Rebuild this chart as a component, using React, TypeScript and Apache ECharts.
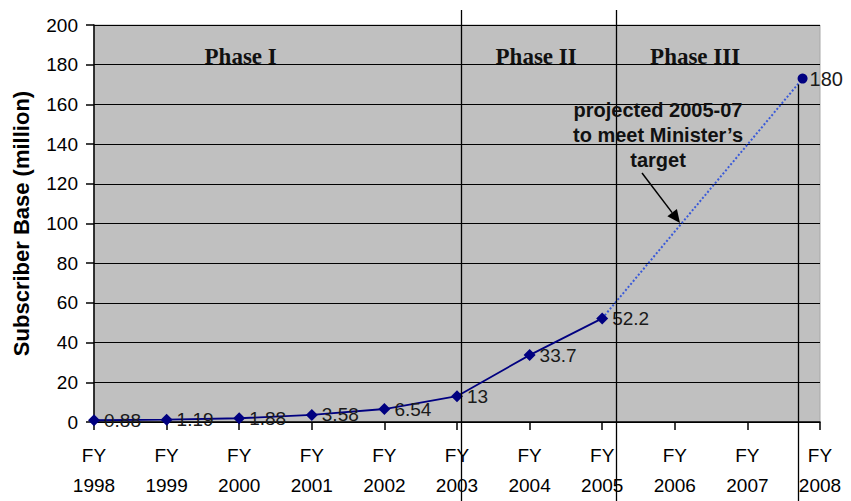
import React, { useEffect, useRef } from "react";
import * as echarts from "echarts";

const categories = ["FY\n1998", "FY\n1999", "FY\n2000", "FY\n2001", "FY\n2002", "FY\n2003", "FY\n2004", "FY\n2005", "FY\n2006", "FY\n2007", "FY\n2008"];
const actualValues: (number | null)[] = [0.88, 1.19, 1.88, 3.58, 6.54, 13, 33.7, 52.2, null, null, null];
const projectedX = [7, 9.76];
const projectedY = [52.2, 173];
const projectedLabels = ["", "180"];
const phaseBoundaries = [5.05, 7.19, 9.7];
const phaseNames = ["Phase I", "Phase II", "Phase III"];
const phaseCenters = [2.02, 6.09, 8.28];
const yTicks = { min: 0, max: 200, interval: 20 };

const SANS = "'Liberation Sans', Arial, sans-serif";
const SERIF = "'Liberation Serif', 'Times New Roman', serif";

export default function App() {
  const ref = useRef<HTMLDivElement>(null);
  useEffect(() => {
    document.body.style.margin = "0";
    const chart = echarts.init(ref.current!, null, { renderer: "svg" });
    const option: any = {
      animation: false,
      backgroundColor: "#ffffff",
      grid: {
        left: 94, right: 31, top: 25, bottom: 79,
        outerBoundsMode: "none",
        containLabel: false,
        show: true, backgroundColor: "#c0c0c0", borderColor: "#a8a8a8", borderWidth: 1,
      },
      xAxis: [
        {
          type: "category",
          data: categories,
          boundaryGap: false,
          axisLine: { lineStyle: { color: "#000", width: 1.5 } },
          axisTick: { show: true, length: 8, lineStyle: { color: "#000", width: 1.5 } },
          axisLabel: { color: "#000", fontSize: 19, fontFamily: SANS, lineHeight: 30, margin: 18, interval: 0 },
          splitLine: { show: false },
        },
        { type: "value", min: 0, max: 10, show: false, splitLine: { show: false } },
      ],
      yAxis: {
        type: "value",
        min: yTicks.min, max: yTicks.max, interval: yTicks.interval,
        name: "Subscriber Base (million)",
        nameLocation: "middle",
        nameGap: 62,
        nameTextStyle: { color: "#000", fontSize: 22, fontWeight: "bold", fontFamily: SANS },
        axisLine: { show: true, lineStyle: { color: "#000", width: 1.5 } },
        axisTick: { show: true, length: 8, lineStyle: { color: "#000", width: 1.5 } },
        axisLabel: { color: "#000", fontSize: 19, fontFamily: SANS, margin: 16 },
        splitLine: { lineStyle: { color: "#000", width: 1.2 } },
      },
      series: [
        {
          type: "line",
          data: actualValues,
          symbol: "diamond",
          symbolSize: 12,
          lineStyle: { color: "#000080", width: 1.8 },
          itemStyle: { color: "#000080" },
          label: { show: true, position: "right", distance: 4, color: "#1a1a1a", fontSize: 19, fontFamily: SANS },
          z: 5,
        },
        {
          type: "line",
          xAxisIndex: 1,
          data: projectedX.map((x, i) => ({
            value: [x, projectedY[i]],
            symbol: projectedLabels[i] ? "circle" : "none",
            symbolSize: 10,
            label: { show: !!projectedLabels[i], formatter: projectedLabels[i] },
          })),
          lineStyle: { color: "#3a5ad8", width: 2, type: [2, 2] },
          itemStyle: { color: "#000080" },
          label: { position: "right", distance: 2, color: "#1a1a1a", fontSize: 20, fontFamily: SANS },
          z: 4,
        },
      ],
    };
    chart.setOption(option);

    const toX = (v: number) => chart.convertToPixel({ xAxisIndex: 1 }, v) as number;
    const toY = (v: number) => chart.convertToPixel({ yAxisIndex: 0 }, v) as number;
    const lastPointY = toY(projectedY[projectedY.length - 1]);
    const graphics: any[] = [];
    phaseBoundaries.forEach((b, i) => {
      const x = Math.round(toX(b)) + 0.5;
      const y1 = i === 2 ? lastPointY + 6 : 10;
      graphics.push({
        type: "line", z: 10,
        shape: { x1: x, y1, x2: x, y2: 501 },
        style: { stroke: "#000", lineWidth: 1.3 },
      });
    });
    phaseNames.forEach((n, i) => {
      graphics.push({
        type: "text", z: 11,
        x: toX(phaseCenters[i]), y: toY(184),
        style: {
          text: n, fill: "#111", font: `bold 23px ${SERIF}`,
          align: "center", verticalAlign: "middle",
        },
      });
    });
    graphics.push({
      type: "text", z: 11, x: 658, y: 135,
      style: {
        text: "projected 2005-07\nto meet Minister\u2019s\ntarget",
        fill: "#111", font: `bold 20px ${SANS}`, lineHeight: 25,
        align: "center", verticalAlign: "middle",
      },
    });
    // arrow pointing to projected line
    const ax1 = 642, ay1 = 173, ax2 = 680, ay2 = 223;
    const ang = Math.atan2(ay2 - ay1, ax2 - ax1);
    const hl = 13, hw = 6;
    const bx = ax2 - hl * Math.cos(ang), by = ay2 - hl * Math.sin(ang);
    graphics.push({
      type: "line", z: 11,
      shape: { x1: ax1, y1: ay1, x2: bx, y2: by },
      style: { stroke: "#000", lineWidth: 1.5 },
    });
    graphics.push({
      type: "polygon", z: 11,
      shape: {
        points: [
          [ax2, ay2],
          [bx + hw * Math.sin(ang), by - hw * Math.cos(ang)],
          [bx - hw * Math.sin(ang), by + hw * Math.cos(ang)],
        ],
      },
      style: { fill: "#000" },
    });
    chart.setOption({ graphic: graphics });

    return () => chart.dispose();
  }, []);
  return <div ref={ref} style={{ width: 851, height: 501 }} />;
}
